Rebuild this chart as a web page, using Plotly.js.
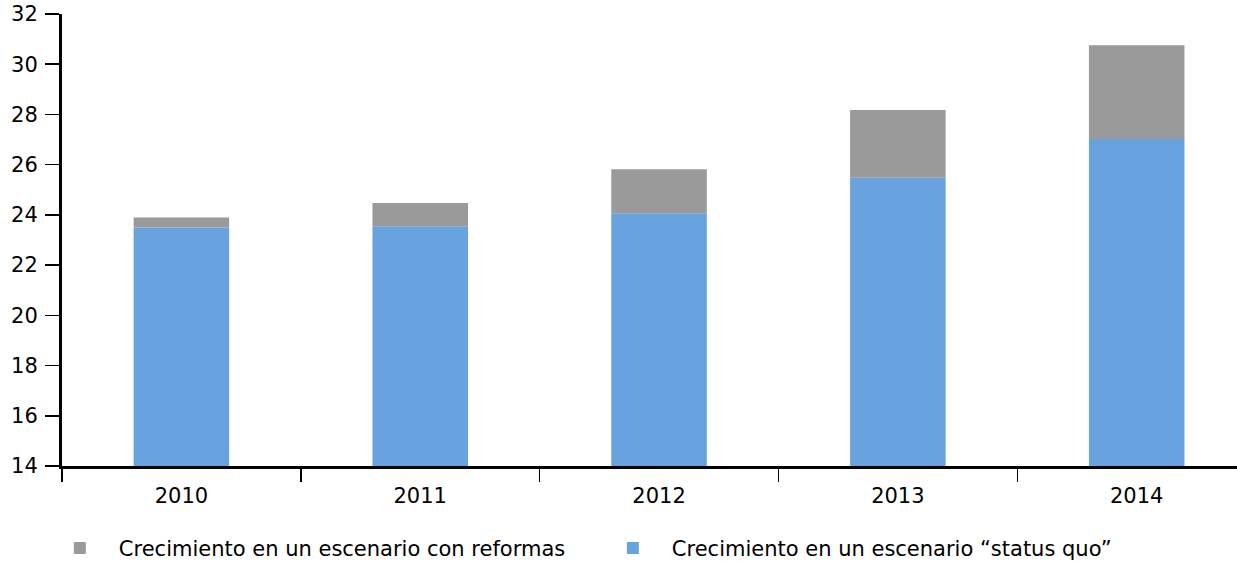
<!DOCTYPE html>
<html>
<head>
<meta charset="utf-8">
<script src="https://cdn.plot.ly/plotly-3.0.1.min.js"></script>
<style>html,body{margin:0;padding:0;background:#fff;}#chart{width:1237px;height:563px;}</style>
</head>
<body>
<div id="chart"></div>
<script>
var years = ["2010", "2011", "2012", "2013", "2014"];
var statusQuoTotal = [23.5, 23.55, 24.07, 25.48, 27.02];
var reformasTotal = [23.9, 24.47, 25.82, 28.18, 30.76];
var baseValue = 14;
var seriesNames = ["Crecimiento en un escenario “status quo”", "Crecimiento en un escenario con reformas"];
var yTicks = [14, 16, 18, 20, 22, 24, 26, 28, 30, 32];

var statusQuoHeights = statusQuoTotal.map(function(v){ return v - baseValue; });
var reformasExtra = reformasTotal.map(function(v, i){ return v - statusQuoTotal[i]; });

var traces = [
  {type: "bar", name: seriesNames[0], x: years, y: statusQuoHeights, base: baseValue,
   marker: {color: "#68a2df"}, width: 0.4, hoverinfo: "skip"},
  {type: "bar", name: seriesNames[1], x: years, y: reformasExtra, base: statusQuoTotal,
   marker: {color: "#9a9a9a"}, width: 0.4, hoverinfo: "skip"}
];

var layout = {
  width: 1237, height: 563,
  margin: {l: 62, r: 0, t: 14, b: 97, autoexpand: false},
  paper_bgcolor: "#fff", plot_bgcolor: "#fff",
  barmode: "overlay",
  font: {family: "DejaVu Sans, sans-serif", size: 21, color: "#000"},
  showlegend: true,
  legend: {orientation: "h", x: -0.018, xanchor: "left", y: -0.137, yanchor: "top",
           traceorder: "reversed", font: {size: 21}, itemwidth: 68, entrywidth: 470, entrywidthmode: "pixels"},
  xaxis: {type: "category", range: [-0.5, 4.42], showgrid: false, zeroline: false,
          showline: true, linecolor: "#000", linewidth: 3,
          ticks: "outside", tickson: "boundaries", ticklen: 13, tickwidth: 1.5, tickcolor: "#000",
          ticklabelstandoff: 9,
          tickfont: {size: 21}, fixedrange: true, automargin: false},
  yaxis: {range: [14, 32], tickvals: yTicks, ticktext: yTicks.map(String), showgrid: false, zeroline: false,
          showline: true, linecolor: "#000", linewidth: 3,
          ticks: "outside", ticklen: 14, tickwidth: 1.5, tickcolor: "#000",
          ticklabelstandoff: 3,
          tickfont: {size: 21}, fixedrange: true, automargin: false}
};

Plotly.newPlot("chart", traces, layout, {displayModeBar: false, staticPlot: true});
</script>
</body>
</html>
